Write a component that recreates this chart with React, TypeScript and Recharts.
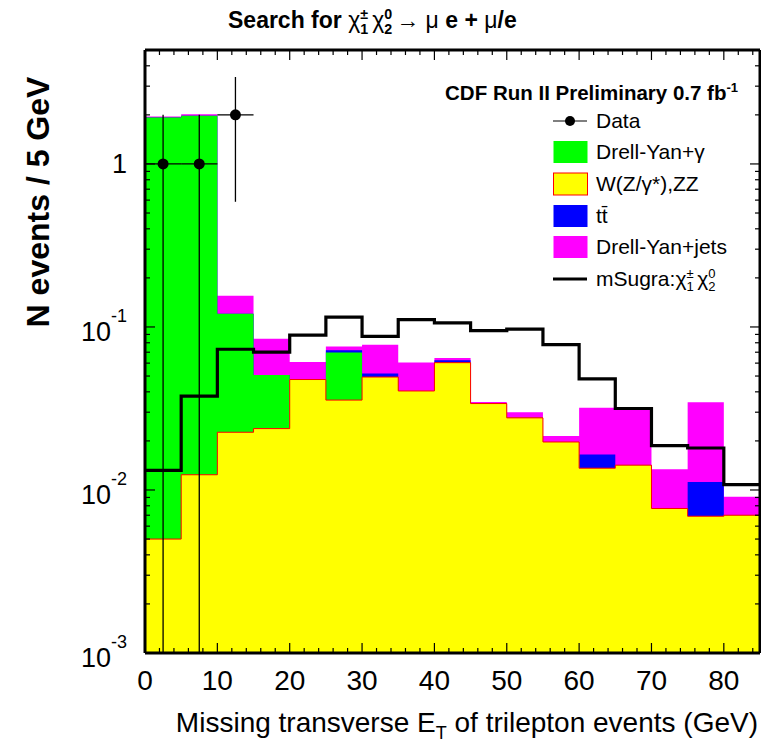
import React from 'react';
import { ComposedChart, Area, Line, Scatter, ErrorBar, XAxis, YAxis } from 'recharts';

// 5 GeV bins, lower edges
const binEdges = [0, 5, 10, 15, 20, 25, 30, 35, 40, 45, 50, 55, 60, 65, 70, 75, 80];
const xEnd = 85;
const binWidth = 5;

// stacked backgrounds, bottom to top
const wzZZ = [0.005, 0.0124, 0.0226, 0.0238, 0.0476, 0.0356, 0.0493, 0.0405, 0.0604, 0.0339, 0.0277, 0.0197, 0.0136, 0.0142, 0.0077, 0.0069, 0.007];
const dyGamma = [1.92, 1.96, 0.098, 0.027, 0, 0.034, 0, 0, 0, 0, 0, 0, 0, 0, 0, 0, 0];
const ttbar = [0, 0, 0, 0, 0, 0.0023, 0.0025, 0, 0.002, 0, 0, 0, 0.0029, 0, 0, 0.0043, 0];
const dyJets = [0.03, 0.045, 0.035, 0.034, 0.0134, 0.0041, 0.026, 0.02, 0.002, 0.0007, 0.0023, 0.0017, 0.0155, 0.0167, 0.0057, 0.0233, 0.0021];
const mSugra = [0.0132, 0.0376, 0.073, 0.07, 0.089, 0.115, 0.0875, 0.111, 0.106, 0.095, 0.097, 0.078, 0.048, 0.0316, 0.0187, 0.0181, 0.0108];

const dataX = [2.5, 7.5, 12.5];
const dataY = [1, 1, 2];
const dataErr = [1, 1, 1.414];

const yMin = 0.001;
const yMax = 5;
const xMajorTicks = [0, 10, 20, 30, 40, 50, 60, 70, 80];
const yMajorTicks = [0.001, 0.01, 0.1, 1];
const yMajorLabels = [['10', '-3'], ['10', '-2'], ['10', '-1'], ['1', '']];

const GREEN = '#00ff00';
const YELLOW = '#ffff00';
const BLUE = '#0000ff';
const MAGENTA = '#ff00ff';
const FONT = '"Liberation Sans", Arial, Helvetica, sans-serif';

const xTicks: number[] = [];
for (let v = 0; v <= 84; v += 2) xTicks.push(v);
const yTicks: number[] = [];
yMajorTicks.forEach((d) => {
  for (let m = 1; m <= 9; m++) if (d * m < yMax) yTicks.push(+(d * m).toPrecision(3));
});

// cumulative stack table, closing point repeats last bin so the step reaches 85
const rows = binEdges.map((x, i) => {
  const c1 = wzZZ[i];
  const c2 = c1 + dyGamma[i];
  const c3 = c2 + ttbar[i];
  const c4 = c3 + dyJets[i];
  return { x, c1, c2, c3, c4, sig: mSugra[i] };
});
rows.push({ ...rows[rows.length - 1], x: xEnd });

const points = dataX.map((x, i) => ({
  x,
  y: dataY[i],
  ex: binWidth / 2,
  ey: [Math.min(dataErr[i], dataY[i] - yMin), dataErr[i]],
}));

const isMajorX = (v: number) => xMajorTicks.includes(v);
const majorYIndex = (v: number) => yMajorTicks.findIndex((m) => Math.abs(m - v) / m < 1e-6);

const BottomTick = (p: any) => {
  const v = p.payload.value;
  const major = isMajorX(v);
  return (
    <g>
      <line x1={p.x} x2={p.x} y1={p.y} y2={p.y - (major ? 10 : 5)} stroke="#000" strokeWidth={1.2} />
      {major && (
        <text x={p.x} y={p.y + 37} textAnchor="middle" fontSize={28} fontFamily={FONT} fill="#000">
          {v}
        </text>
      )}
    </g>
  );
};

const TopTick = (p: any) => {
  const major = isMajorX(p.payload.value);
  return <line x1={p.x} x2={p.x} y1={p.y} y2={p.y + (major ? 10 : 5)} stroke="#000" strokeWidth={1.2} />;
};

const LeftTick = (p: any) => {
  const idx = majorYIndex(p.payload.value);
  const major = idx >= 0;
  return (
    <g>
      <line x1={p.x} x2={p.x + (major ? 10 : 5)} y1={p.y} y2={p.y} stroke="#000" strokeWidth={1.2} />
      {major && yMajorLabels[idx][1] === '' && (
        <text x={p.x - 18} y={p.y + 9.5} textAnchor="end" fontSize={27} fontFamily={FONT} fill="#000">
          {yMajorLabels[idx][0]}
        </text>
      )}
      {major && yMajorLabels[idx][1] !== '' && (
        <text x={p.x - 18} y={p.y + 14} textAnchor="end" fontSize={27} fontFamily={FONT} fill="#000">
          {yMajorLabels[idx][0]}
          <tspan dy={-19} fontSize={18}>{yMajorLabels[idx][1]}</tspan>
        </text>
      )}
    </g>
  );
};

const RightTick = (p: any) => {
  const major = majorYIndex(p.payload.value) >= 0;
  return <line x1={p.x} x2={p.x - (major ? 10 : 5)} y1={p.y} y2={p.y} stroke="#000" strokeWidth={1.2} />;
};

const Dot = (p: any) => <circle cx={p.cx} cy={p.cy} r={5.5} fill="#000" />;

// chi with stacked super/subscript
function Chi({ sup, sub, fs }: { sup: string; sub: string; fs: number }) {
  const s = fs * 0.62;
  return (
    <span style={{ whiteSpace: 'nowrap' }}>
      <span style={{ fontWeight: 'normal' }}>χ</span>
      <span style={{ position: 'relative', display: 'inline-block', width: fs * 0.52, lineHeight: `${fs * 1.2}px` }}>
        {'\u00a0'}
        <span style={{ position: 'absolute', left: 0, top: fs * 0.02, fontSize: s, lineHeight: 1 }}>{sup}</span>
        <span style={{ position: 'absolute', left: 0, top: fs * 0.67, fontSize: s, lineHeight: 1 }}>{sub}</span>
      </span>
    </span>
  );
}

const legendItems = [
  { label: 'Data', kind: 'data', color: '#000' },
  { label: 'Drell-Yan+γ', kind: 'box', color: GREEN },
  { label: 'W(Z/γ*),ZZ', kind: 'box', color: YELLOW, border: '#ff0000' },
  { label: 'tt̄', kind: 'box', color: BLUE },
  { label: 'Drell-Yan+jets', kind: 'box', color: MAGENTA },
  { label: 'mSugra:', kind: 'line', color: '#000' },
];

function LegendBox() {
  return (
    <div style={{ position: 'absolute', left: 553, top: 105, fontFamily: FONT, fontSize: 21 }}>
      {legendItems.map((it) => (
        <div key={it.label} style={{ display: 'flex', alignItems: 'center', height: 31.6 }}>
          <svg width={36} height={24} style={{ marginRight: 7 }}>
            {it.kind === 'box' && (
              <rect x={0.5} y={1} width={34} height={22} fill={it.color} stroke={it.border || 'none'} strokeWidth={1} />
            )}
            {it.kind === 'line' && <line x1={0} x2={34} y1={12} y2={12} stroke="#000" strokeWidth={3} />}
            {it.kind === 'data' && (
              <g>
                <line x1={0} x2={34} y1={12} y2={12} stroke="#555" strokeWidth={1.5} />
                <circle cx={17} cy={12} r={5} fill="#000" />
              </g>
            )}
          </svg>
          <span>
            {it.label}
            {it.kind === 'line' && <Chi sup="±" sub="1" fs={21} />}
            {it.kind === 'line' && <Chi sup="0" sub="2" fs={21} />}
          </span>
        </div>
      ))}
    </div>
  );
}

export default function App() {
  return (
    <div style={{ position: 'absolute', left: 0, top: 0, width: 761, height: 742, background: '#fff', fontFamily: FONT }}>
      <ComposedChart width={761} height={742} data={rows} margin={{ top: 49, right: 0, bottom: 0, left: 0 }}>
        <XAxis
          dataKey="x"
          type="number"
          domain={[0, xEnd]}
          allowDataOverflow
          ticks={xTicks}
          interval={0}
          tickSize={0}
          tickMargin={0}
          tick={BottomTick}
          axisLine={{ stroke: '#000', strokeWidth: 3 }}
          height={89}
        />
        <XAxis
          xAxisId="top"
          orientation="top"
          dataKey="x"
          type="number"
          domain={[0, xEnd]}
          allowDataOverflow
          ticks={xTicks}
          interval={0}
          tickSize={0}
          tickMargin={0}
          tick={TopTick}
          axisLine={{ stroke: '#000', strokeWidth: 3 }}
          height={1}
        />
        <YAxis
          type="number"
          scale="log"
          domain={[yMin, yMax]}
          allowDataOverflow
          ticks={yTicks}
          interval={0}
          tickSize={0}
          tickMargin={0}
          tick={LeftTick}
          axisLine={{ stroke: '#000', strokeWidth: 3 }}
          width={145}
        />
        <YAxis
          yAxisId="right"
          orientation="right"
          type="number"
          scale="log"
          domain={[yMin, yMax]}
          allowDataOverflow
          ticks={yTicks}
          interval={0}
          tickSize={0}
          tickMargin={0}
          tick={RightTick}
          axisLine={{ stroke: '#000', strokeWidth: 3 }}
          width={1}
        />
        <Area dataKey="c4" type="stepAfter" baseValue={yMin} fill={MAGENTA} fillOpacity={1} stroke="none" isAnimationActive={false} />
        <Area dataKey="c3" type="stepAfter" baseValue={yMin} fill={BLUE} fillOpacity={1} stroke="none" isAnimationActive={false} />
        <Area dataKey="c2" type="stepAfter" baseValue={yMin} fill={GREEN} fillOpacity={1} stroke="none" isAnimationActive={false} />
        <Area dataKey="c1" type="stepAfter" baseValue={yMin} fill={YELLOW} fillOpacity={1} stroke="#ff0000" strokeWidth={1} isAnimationActive={false} />
        <Line dataKey="sig" type="stepAfter" stroke="#000" strokeWidth={3.2} dot={false} isAnimationActive={false} />
        <Scatter data={points} dataKey="y" shape={Dot} isAnimationActive={false}>
          <ErrorBar dataKey="ex" direction="x" width={0} stroke="#000" strokeWidth={1.3} />
          <ErrorBar dataKey="ey" direction="y" width={0} stroke="#000" strokeWidth={1.3} />
        </Scatter>
      </ComposedChart>

      <div style={{ position: 'absolute', left: 228, top: 6, fontSize: 23, fontWeight: 'bold', lineHeight: '28px', whiteSpace: 'nowrap' }}>
        Search for <Chi sup="±" sub="1" fs={23} />
        <Chi sup="0" sub="2" fs={23} />
        <span style={{ fontWeight: 'normal' }}>→ μ</span> e + <span style={{ fontWeight: 'normal' }}>μ</span>/e
      </div>

      <div style={{ position: 'absolute', right: 23, top: 77, fontSize: 20.5, fontWeight: 'bold', lineHeight: '22px', whiteSpace: 'nowrap' }}>
        CDF Run II Preliminary 0.7 fb<sup style={{ fontSize: 13, verticalAlign: 8 }}>-1</sup>
      </div>

      <LegendBox />

      <div
        style={{
          position: 'absolute',
          left: 38,
          top: 202,
          transform: 'translate(-50%, -50%) rotate(-90deg)',
          fontSize: 32,
          fontWeight: 'bold',
          whiteSpace: 'nowrap',
        }}
      >
        N events / 5 GeV
      </div>

      <div style={{ position: 'absolute', right: 3, top: 708, fontSize: 28, lineHeight: '30px', whiteSpace: 'nowrap' }}>
        Missing transverse E<sub style={{ fontSize: 18, verticalAlign: -7 }}>T</sub> of trilepton events (GeV)
      </div>
    </div>
  );
}
